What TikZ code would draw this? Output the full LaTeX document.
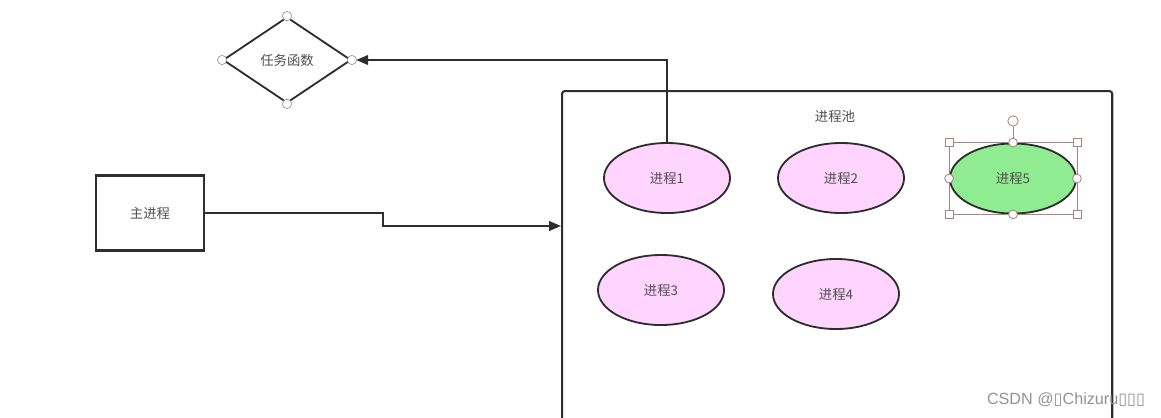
\documentclass[tikz,border=0pt]{standalone}
\usepackage{fontspec}
\setmainfont{Noto Sans CJK SC}
\newfontfamily\wmfont{Liberation Sans}
\newfontfamily\boxfont{DejaVu Sans}
\usetikzlibrary{shapes.geometric,arrows.meta}
\definecolor{linec}{HTML}{2E2E2E}
\definecolor{textc}{HTML}{505050}
\definecolor{procpink}{RGB}{255,212,255}
\definecolor{procgreen}{RGB}{144,236,144}
\definecolor{handlec}{RGB}{168,132,132}
\tikzset{
  every node/.style={font=\fontsize{9.5}{11}\selectfont, text=textc},
  proc/.style={ellipse, draw=linec, line width=1.3pt, fill=procpink,
    minimum width=3.15cm, minimum height=1.75cm, inner sep=0pt},
  mainbox/.style={rectangle, draw=linec, line width=1.5pt,
    minimum width=2.7cm, minimum height=1.875cm},
  taskbox/.style={diamond, draw=linec, line width=1.3pt,
    minimum width=3.2cm, minimum height=2.15cm, inner sep=0pt},
  poolbox/.style={rectangle, draw=linec, line width=1.5pt, rounded corners=2pt,
    minimum width=13.75cm, minimum height=9cm, anchor=north west},
  conn/.style={draw=linec, line width=1.5pt, -{Triangle[length=3mm,width=2.4mm]}},
  vhandle/.style={circle, draw=gray!80, fill=white, line width=0.5pt,
    minimum size=0.23cm, inner sep=0pt},
  rhandle/.style={circle, draw=handlec, fill=white, line width=0.6pt,
    minimum size=0.22cm, inner sep=0pt},
  sqhandle/.style={rectangle, draw=handlec, fill=white, line width=0.6pt,
    minimum size=0.2cm, inner sep=0pt}
}
\begin{document}
\begin{tikzpicture}[x=0.025cm, y=-0.025cm]
  % page frame: 1161 x 417 px
  \clip (0,0) rectangle (1161,417);
  \fill[white] (0,0) rectangle (1161,417);

  % task function diamond
  \node[taskbox] (task) at (287,60) {任务函数};
  \foreach \a in {north,south,east,west} {
    \node[vhandle] at (task.\a) {};
  }

  % main process
  \node[mainbox] (main) at (150,213) {主进程};

  % process pool
  \node[poolbox] (pool) at (561,90) {};
  \node (pooltitle) at (835,116) {进程池};
  \coordinate (poolin) at (561,226);

  % processes
  \node[proc] (p1) at (667,178) {进程1};
  \node[proc] (p2) at (841,178) {进程2};
  \node[proc, fill=procgreen] (p5) at (1013,178.5) {进程5};
  \node[proc] (p3) at (661,290) {进程3};
  \node[proc] (p4) at (836,294) {进程4};

  % selection frame round process 5
  \draw[handlec, line width=0.5pt] (p5.west |- p5.north) rectangle (p5.east |- p5.south);
  \foreach \a/\b in {west/north,east/north,west/south,east/south} {
    \node[sqhandle] at (p5.\a |- p5.\b) {};
  }
  \node[rhandle, minimum size=0.26cm] (rot) at (1013,121) {};
  \draw[handlec, line width=0.6pt] (rot) -- (p5.north);
  \foreach \a in {north,south,east,west} {
    \node[rhandle] at (p5.\a) {};
  }

  % connectors
  \draw[conn] (main.east) -- ++(178,0) |- (poolin);
  \draw[conn, shorten >=3pt] (p1.north) |- (task.east);

  % watermark
  \node[anchor=east, text=gray!85, font=\fontsize{11.5}{13}\wmfont] (mark) at (1150,400)
    {CSDN @{\boxfont ▯}Chizuru{\boxfont ▯▯▯}};
\end{tikzpicture}
\end{document}
